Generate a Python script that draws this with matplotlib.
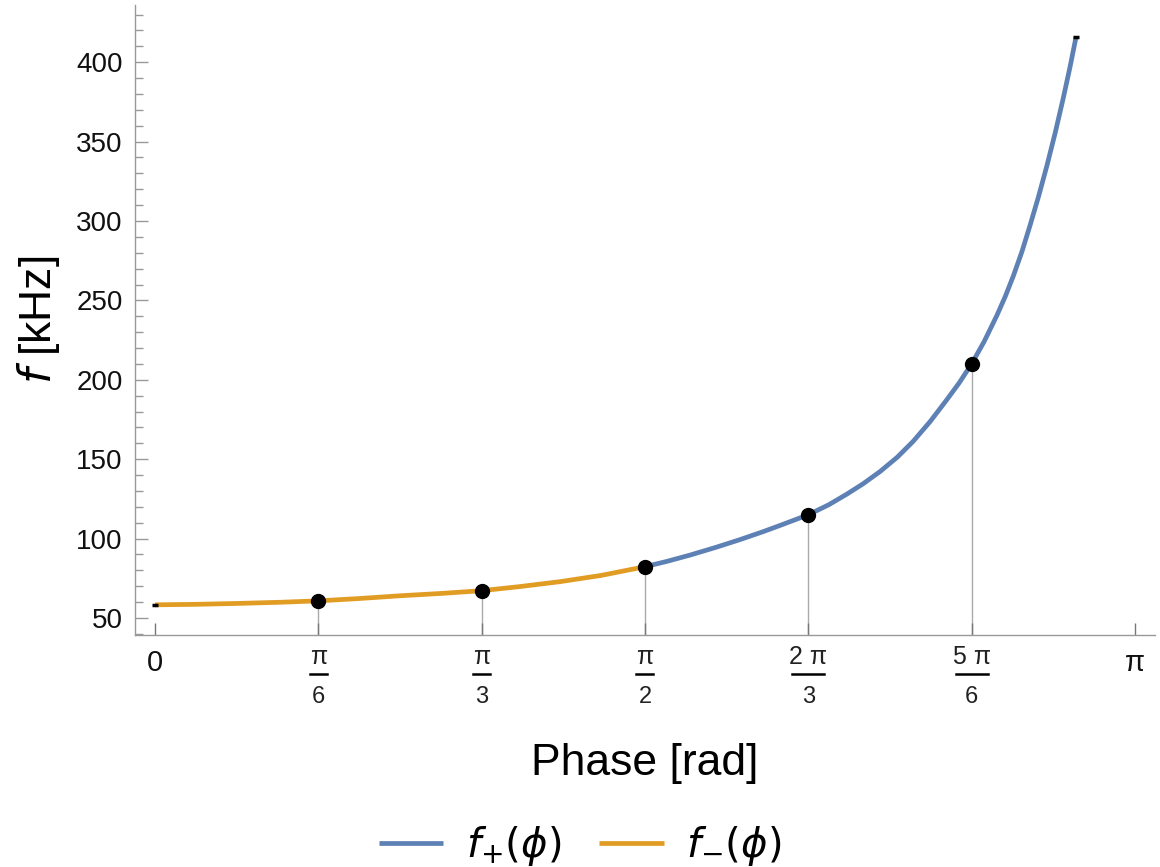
import numpy as np
import matplotlib
matplotlib.use("Agg")
import matplotlib.pyplot as plt
from matplotlib.ticker import MultipleLocator
from matplotlib.transforms import offset_copy

plt.rcParams['font.family'] = ['Liberation Sans', 'DejaVu Sans']
plt.rcParams['mathtext.fontset'] = 'dejavusans'

# values (phase in rad, frequency in kHz)
phi_minus = [0.0, 0.13, 0.27, 0.40, 0.5236, 0.65, 0.786, 0.92, 1.0472, 1.17, 1.299, 1.43, 1.5708]
f_minus = [58.3, 58.6, 59.2, 59.9, 60.8, 62.2, 64.0, 65.5, 67.2, 69.8, 72.9, 76.8, 82.3]

phi_plus = [1.5708, 1.64, 1.715, 1.80, 1.876, 1.95, 2.004, 2.0944, 2.16, 2.218, 2.27,
            2.325, 2.38, 2.431, 2.485, 2.538, 2.578, 2.618, 2.658, 2.699, 2.726,
            2.752, 2.779, 2.805, 2.832, 2.859, 2.886, 2.912, 2.933, 2.953]
f_plus = [82.3, 85.6, 89.6, 94.6, 99.4, 104.4, 108.3, 115.0, 121.3, 128.0, 134.5,
          142.3, 151.3, 161.3, 173.7, 187.3, 198.0, 210.0, 224.0, 240.5, 252.5,
          265.5, 280.5, 297.0, 315.0, 334.5, 355.5, 377.5, 396.5, 416.0]

# marked points
phi_pts = [np.pi / 6, np.pi / 3, np.pi / 2, 2 * np.pi / 3, 5 * np.pi / 6]
f_pts = [60.8, 67.2, 82.3, 115.0, 210.0]

tick_pos = [0, np.pi / 6, np.pi / 3, np.pi / 2, 2 * np.pi / 3, 5 * np.pi / 6, np.pi]
tick_num = ['0', 'π', 'π', 'π', '2 π', '5 π', 'π']
tick_den = [None, '6', '3', '2', '3', '6', None]

blue = '#5E81B5'
orange = '#E19C24'

fig = plt.figure(figsize=(11.6, 8.67), dpi=100)
ax = fig.add_axes([0.1164, 0.2676, 0.8793, 0.7266])

xmin, xmax = -0.064, 3.206
ax.set_xlim(xmin, xmax)
ax.set_ylim(39.3, 436)

# drop lines from the points to the axis
for p, f in zip(phi_pts, f_pts):
    ax.plot([p, p], [39.3, f], color='#aaaaaa', lw=1, zorder=1)

ax.plot(phi_plus, f_plus, color=blue, lw=3.4, label=r'$f_{+}(\phi)$', zorder=3,
        solid_joinstyle='round', solid_capstyle='butt')
ax.plot(phi_minus, f_minus, color=orange, lw=3.4, label=r'$f_{-}(\phi)$', zorder=3,
        solid_joinstyle='round', solid_capstyle='butt')
ax.plot([phi_minus[0], phi_plus[-1]], [f_minus[0], f_plus[-1]], ls='none',
        marker='_', ms=4, mew=2.5, color='black', zorder=4)
ax.plot(phi_pts, f_pts, 'o', color='black', ms=10, zorder=5)

for s in ['top', 'right']:
    ax.spines[s].set_visible(False)
for s in ['left', 'bottom']:
    ax.spines[s].set_color('#999999')
    ax.spines[s].set_linewidth(1)

ax.yaxis.set_major_locator(MultipleLocator(50))
ax.yaxis.set_minor_locator(MultipleLocator(10))
ax.tick_params(axis='y', which='major', direction='in', length=9, width=1,
               color='#999999', labelsize=20, pad=9, labelcolor='#111111')
ax.tick_params(axis='y', which='minor', direction='in', length=6, width=1,
               color='#999999')

ax.set_xticks(tick_pos)
ax.set_xticklabels([''] * len(tick_pos))
ax.tick_params(axis='x', direction='in', length=9, width=1, color='#777777')

# x tick labels drawn as stacked fractions
ax_w_px = fig.get_figwidth() * fig.dpi * 0.8793
px_per_rad = ax_w_px / (xmax - xmin)
tr = ax.get_xaxis_transform()
for p, num, den in zip(tick_pos, tick_num, tick_den):
    if den is None:
        ax.annotate(num, xy=(p, 0), xycoords=tr, xytext=(0, -28),
                    textcoords='offset pixels', ha='center', va='center',
                    fontsize=21, color='#111111')
    else:
        ax.annotate(num, xy=(p, 0), xycoords=tr, xytext=(0, -22),
                    textcoords='offset pixels', ha='center', va='center',
                    fontsize=18, color='#222222')
        ax.annotate(den, xy=(p, 0), xycoords=tr, xytext=(0, -62),
                    textcoords='offset pixels', ha='center', va='center',
                    fontsize=17, color='#222222')
        w = (17 if len(num) == 1 else 32) / px_per_rad
        bar_tr = offset_copy(tr, fig=fig, x=0, y=-39, units='dots')
        ax.plot([p - w / 2, p + w / 2], [0, 0], color='black', lw=1.8,
                transform=bar_tr, clip_on=False)

ax.set_xlabel('Phase [rad]', fontsize=32, labelpad=74)
ax.set_ylabel(r'$f$ [kHz]', fontsize=32, labelpad=10)

fig.legend(loc='lower center', bbox_to_anchor=(0.5, -0.043), ncol=2, frameon=False,
           fontsize=29, handlelength=1.6, handletextpad=0.55, columnspacing=0.95)

fig.savefig('out.png', dpi=100)
